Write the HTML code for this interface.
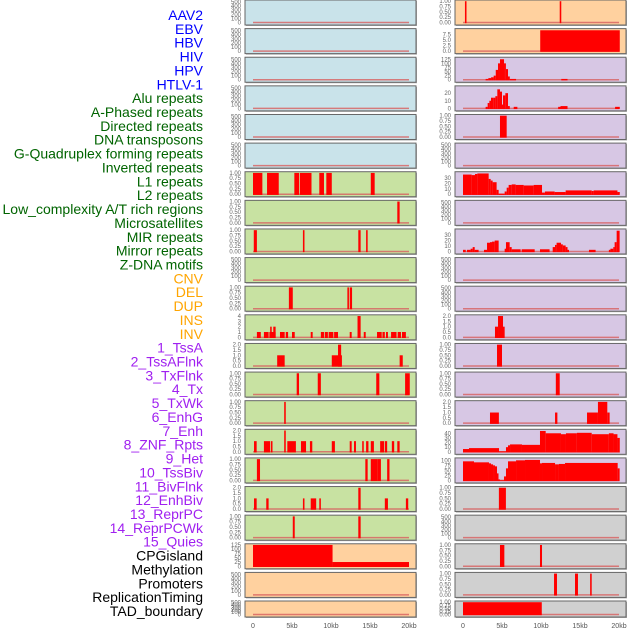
<!DOCTYPE html>
<html><head><meta charset="utf-8">
<style>
body{margin:0;background:#fff;}
svg{display:block;font-family:"Liberation Sans",sans-serif;}
</style></head>
<body>
<svg id="chart" width="630" height="630" viewBox="0 0 630 630"></svg>
<script>
const labels = ["AAV2","EBV","HBV","HIV","HPV","HTLV-1","Alu repeats","A-Phased repeats","Directed repeats","DNA transposons","G-Quadruplex forming repeats","Inverted repeats","L1 repeats","L2 repeats","Low_complexity A/T rich regions","Microsatellites","MIR repeats","Mirror repeats","Z-DNA motifs","CNV","DEL","DUP","INS","INV","1_TssA","2_TssAFlnk","3_TxFlnk","4_Tx","5_TxWk","6_EnhG","7_Enh","8_ZNF_Rpts","9_Het","10_TssBiv","11_BivFlnk","12_EnhBiv","13_ReprPC","14_ReprPCWk","15_Quies","CPGisland","Methylation","Promoters","ReplicationTiming","TAD_boundary"];
const labelColors = ["#0000ff","#0000ff","#0000ff","#0000ff","#0000ff","#0000ff","#006400","#006400","#006400","#006400","#006400","#006400","#006400","#006400","#006400","#006400","#006400","#006400","#006400","#ffa500","#ffa500","#ffa500","#ffa500","#ffa500","#a020f0","#a020f0","#a020f0","#a020f0","#a020f0","#a020f0","#a020f0","#a020f0","#a020f0","#a020f0","#a020f0","#a020f0","#a020f0","#a020f0","#a020f0","#000","#000","#000","#000","#000"];
const xTicks = [0,5,10,15,20];
const xTickLabels = ["0","5kb","10kb","15kb","20kb"];
const T1 = ["0.00","0.25","0.50","0.75","1.00"];
const T500 = ["0","100","200","300","400","500"];
const T2 = ["0.0","0.5","1.0","1.5","2.0"];
// left column: background, ymax, tick values, segments [startKb,endKb,value]
const leftBg = ["blue","blue","blue","blue","blue","blue","green","green","green","green","green","green","green","green","green","green","green","green","green","peach","peach","peach"];
const leftYmax = [520,520,520,520,520,520,1,1,1,520,1,4,2,1,1,2,1,2,1,125,520,520];
const leftTicks = [T500,T500,T500,T500,T500,T500,T1,T1,T1,T500,T1,["0","1","2","3","4"],T2,T1,T1,T2,T1,T2,T1,["0","25","50","75","100","125"],T500,T500];
const leftSegs = [
 [],[],[],[],[],[],
 [[0,1.2,1],[1.8,3.3,1],[5.3,5.9,1],[6.0,7.5,1],[8.5,9.1,1],[9.4,10.1,1],[15.1,15.6,1]],
 [[18.5,18.8,1]],
 [[0.1,0.5,1],[6.4,6.6,1],[13.5,13.8,1],[14.5,14.7,1]],
 [],
 [[4.6,5.1,1],[12.1,12.3,1],[12.4,12.7,1]],
 [[0.5,1.0,1],[1.4,2.0,1],[2.1,2.9,1],[2.2,2.4,2],[2.6,2.9,2],[3.46,4.06,1],[4.2,4.5,1],[5.0,5.35,1],[7.4,7.65,1],[8.7,9.1,1],[9.2,9.6,1],[9.7,10.3,1],[10.4,10.9,1],[12.4,12.65,1],[13.4,13.8,4],[14.2,14.45,1],[15.9,16.5,1],[16.6,16.9,1],[17.05,17.3,1],[17.7,18.4,1],[18.55,18.97,1],[19.1,19.6,1]],
 [[3.1,4.06,1],[10.1,11.4,1],[10.9,11.3,2],[18.8,19.2,1]],
 [[5.6,5.9,1],[8.3,8.7,1],[15.8,16.2,1],[19.5,20.1,1]],
 [[4.0,4.2,1]],
 [[0.13,0.47,1],[1.4,2.2,1],[2.3,2.5,1],[4.0,4.2,2],[4.4,5.5,1],[6.15,6.8,1],[7.3,7.6,1],[10.1,10.5,1],[12.4,12.65,1],[12.95,13.2,1],[14.0,14.2,1],[14.5,14.8,1],[15.1,15.5,1],[16.3,16.8,1],[16.9,17.2,1],[17.8,18.1,1],[18.5,18.8,1]],
 [[0.5,0.9,1],[14.4,14.7,1],[15.1,16.0,1],[16.0,16.4,1],[17.2,17.5,1]],
 [[0.13,0.47,1],[1.7,2.0,1],[6.4,6.6,1],[7.4,8.1,1],[8.5,8.7,1],[13.5,13.8,2],[16.9,17.3,1],[19.6,19.9,1]],
 [[5.1,5.35,1],[13.5,13.8,1]],
 [[0,10.2,125],[10.2,20,25]],
 [],[]
];
const rightBg = ["peach","peach","lav","lav","lav","lav","lav","lav","lav","lav","lav","lav","lav","lav","lav","lav","lav","gray","gray","gray","gray","gray"];
const rightYmax = [1,9.5,130,28,1,520,39,520,39,520,520,2,1,1,2,46,106,1,520,1,1,1];
const rightTicks = [T1,["0.0","2.5","5.0","7.5"],["0","25","50","75","100","125"],["0","10","20"],T1,T500,["0","10","20","30"],T500,["0","10","20","30"],T500,T500,T2,T1,T1,T2,["0","10","20","30","40"],["0","25","50","75","100"],T1,T500,T1,T1,T1];
const rightSegs = [
 [[0.25,0.45,1],[12.4,12.6,1]],
 [[9.9,20.1,9.3]],
 [[2.9,3.25,5],[3.25,3.6,10],[3.6,3.93,15],[3.93,4.2,25],[4.2,4.49,60],[4.49,4.74,100],[4.74,5.26,125],[5.26,5.5,100],[5.5,5.77,65],[5.77,6.0,20],[6.0,6.8,5],[12.6,13.4,5]],
 [[2.9,3.16,2],[3.16,3.38,7],[3.38,3.59,10],[3.59,3.93,14],[3.93,4.15,14],[4.15,4.4,16],[4.4,4.74,25],[4.74,5.0,22],[5.0,5.13,5],[5.13,5.43,17],[5.43,5.77,20],[5.77,6.0,3],[6.5,6.97,2],[12.2,12.5,2],[12.5,13.4,3],[19.5,20.1,2]],
 [[4.74,5.6,1]],
 [],
 [[0,1.11,36],[1.11,1.54,35],[1.54,1.84,37],[1.84,3.29,38],[3.29,3.55,28],[3.55,3.8,25],[3.8,4.31,22],[4.31,4.57,8],[4.57,5.34,1],[5.34,5.6,5],[5.6,5.85,12],[5.85,6.24,17],[6.24,6.75,18],[6.75,7.78,17],[7.78,9.06,16],[9.06,10.13,17],[10.13,10.5,3],[10.5,11.75,5],[11.75,13.16,4],[13.16,16.5,7],[16.5,16.75,6],[16.75,19.8,7],[19.8,20.1,4]],
 [],
 [[0,0.35,3],[0.51,0.98,3],[0.98,1.24,5],[1.24,1.5,8],[1.5,2.0,3],[2.69,3.08,3],[3.08,3.46,16],[3.46,3.72,17],[3.72,4.06,18],[4.06,4.57,20],[5.34,5.51,5],[5.51,5.98,17],[5.98,6.24,8],[6.24,7.39,4],[7.52,9.19,4],[9.87,11.1,4],[11.5,11.8,8],[11.8,12.0,12],[12.0,12.56,16],[12.56,12.8,13],[12.8,13.16,11],[13.16,13.4,8],[13.4,13.5,3],[16.15,17.0,3],[18.7,18.9,3],[18.9,19.27,5],[19.27,19.44,8],[19.44,19.7,17],[19.7,20.08,38]],
 [],[],
 [[4.1,4.49,1],[4.49,5.13,2],[5.13,5.34,1]],
 [[4.36,5.0,1]],
 [[11.9,12.4,1]],
 [[3.46,4.6,1],[11.8,12.1,1],[15.9,17.3,1],[17.3,18.5,2],[18.5,18.8,1]],
 [[0,0.77,6],[0.77,4.62,8],[4.62,5.51,1],[5.51,5.77,10],[5.77,6.03,14],[6.03,7.56,16],[7.56,9.87,15],[9.87,10.6,45],[10.6,12.56,40],[12.56,13.2,38],[13.2,14.6,40],[14.6,16.5,41],[16.5,18.7,38],[18.7,19.3,40],[19.3,19.8,38],[19.8,20.1,30]],
 [[0,1.41,95],[1.41,3.33,90],[3.33,3.59,85],[3.59,3.85,80],[3.85,4.1,75],[4.1,4.36,70],[4.36,4.53,35],[4.53,4.74,5],[4.74,5.26,1],[5.26,5.51,20],[5.51,5.77,60],[5.77,6.8,95],[6.8,7.95,100],[7.95,9.87,102],[9.87,10.13,85],[10.13,11.8,87],[11.8,12.3,80],[12.3,13.08,82],[13.08,19.83,87],[19.83,20.08,60]],
 [[4.6,5.5,1]],
 [],
 [[4.74,5.3,1],[9.87,10.13,1]],
 [[11.67,12.05,1],[14.36,14.74,1],[16.3,16.5,1]],
 [[0,10.1,1]]
];
const bgColors = {blue:"#c9e3ea",green:"#c8e2a2",peach:"#ffd19f",lav:"#d7c7e4",gray:"#d0d0d0"};
const NS = "http://www.w3.org/2000/svg";
const svg = document.getElementById("chart");
function mk(tag, attrs, parent){const e=document.createElementNS(NS,tag);for(const k in attrs)e.setAttribute(k,attrs[k]);(parent||svg).appendChild(e);return e;}
function rowTop(i){return i<21? i*28.62 : 601;}
function rowH(i){return i<21?25:16;}

// labels
labels.forEach((t,i)=>{
  const y = 15 + i*(596/43);
  const el = mk("text",{x:203,y:y+5,"text-anchor":"end","font-size":"14",fill:labelColors[i]});
  el.textContent = t;
  
  
});

function drawCol(colIdx, x0, bgs, ymaxs, ticks, segs){
  const px0 = x0+8, px20 = x0+164;
  const xs = kb => px0 + (px20-px0)*kb/20;
  for(let i=0;i<22;i++){
    const top=rowTop(i), h=rowH(i);
    const g = mk("g",{});
    
    
    mk("rect",{x:x0+1,y:top+1,width:171,height:h,fill:"#aaa"},g);
    mk("rect",{x:x0,y:top,width:171,height:h,fill:bgColors[bgs[i]],stroke:"#666","stroke-width":1},g);
    const y0 = top+h-2.5, yT = top+1.2;
    const ys = v => y0 - (y0-yT)*v/ymaxs[i];
    // ticks
    const tl = ticks[i];
    tl.forEach(lbl=>{
      const v=parseFloat(lbl);
      const t = mk("text",{x:x0-4,y:ys(v)+2,"text-anchor":"end","font-size":"6",fill:"#666"},g);
      t.textContent = lbl;
      
      
    });
    // baseline
    mk("line",{x1:xs(0),x2:xs(20),y1:y0,y2:y0,stroke:"#d86060","stroke-width":1.5,opacity:0.8},g);
    segs[i].forEach(s=>{
      const r = mk("rect",{x:xs(s[0]),y:ys(s[2]),width:Math.max(1.5,xs(s[1])-xs(s[0])),height:y0-ys(s[2])+0.7,fill:"#ff0000"},g);
      
      
    });
  }
  xTicks.forEach((k,j)=>{
    const t = mk("text",{x:xs(k),y:628,"text-anchor":"middle","font-size":"7",fill:"#555"});
    t.textContent = xTickLabels[j];
    
    
  });
}
drawCol(0,245,leftBg,leftYmax,leftTicks,leftSegs);
drawCol(1,455,rightBg,rightYmax,rightTicks,rightSegs);
</script>
</body></html>
